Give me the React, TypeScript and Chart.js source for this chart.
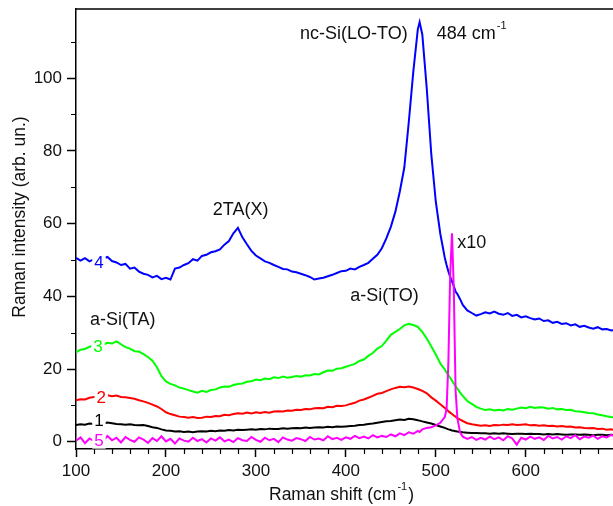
import React, { useEffect, useRef } from 'react';
import { Chart, registerables } from 'chart.js';

Chart.register(...registerables);

// Raman shift (cm^-1) sample positions
const X = [
  100, 105, 110, 115, 120, 125, 130, 135, 140, 145,
  150, 155, 160, 165, 170, 175, 180, 185, 190, 195,
  200, 205, 210, 215, 220, 225, 230, 235, 240, 245,
  250, 255, 260, 265, 270, 275, 280, 285, 290, 295,
  300, 305, 310, 315, 320, 325, 330, 335, 340, 345,
  350, 355, 360, 365, 370, 375, 380, 385, 390, 395,
  400, 405, 410, 415, 420, 425, 430, 435, 440, 445,
  450, 455, 460, 465, 470, 475, 480, 482, 485, 490,
  495, 500, 505, 510, 512, 514, 516, 518, 520, 522,
  524, 527, 530, 535, 540, 545, 550, 555, 560, 565,
  570, 575, 580, 585, 590, 595, 600, 605, 610, 615,
  620, 625, 630, 635, 640, 645, 650, 655, 660, 665,
  670, 675, 680, 685, 690, 695, 700,
];

// curve 4 (blue)
const S4 = [
  50.6, 49.8, 50.5, 49.6, 50.2, 49.9, 50.4, 50.8, 49.7, 49.3,
  48.6, 48.9, 47.6, 47.9, 46.8, 46.2, 45.9, 45.2, 45.6, 44.7,
  45.1, 44.6, 47.6, 47.9, 48.6, 49.1, 50.2, 49.8, 51.1, 51.4,
  52.1, 52.4, 52.9, 54.2, 55.2, 57.3, 58.8, 56.2, 54.3, 52.5,
  51.2, 50.4, 49.6, 49.2, 48.6, 48.1, 47.5, 47.4, 46.8, 46.6,
  46.2, 45.8, 45.3, 44.6, 44.9, 45.1, 45.5, 45.9, 46.4, 46.9,
  47.0, 47.6, 47.4, 48.1, 48.6, 49.2, 50.3, 51.4, 53.2, 55.9,
  59.1, 63.2, 68.8, 75.4, 88.0, 101.8, 113.4, 115.4, 112.0, 97.0,
  79.0, 66.0, 57.2, 50.6, 48.6, 46.8, 45.3, 44.1, 42.8, 41.3,
  40.6, 39.2, 37.6, 36.1, 35.4, 34.7, 35.1, 35.6, 35.3, 35.8,
  35.2, 34.9, 35.4, 34.6, 34.9, 34.2, 34.5, 34.0, 33.6, 33.9,
  33.2, 33.4, 32.7, 33.0, 32.4, 32.6, 32.0, 32.3, 31.6, 31.9,
  31.4, 31.1, 31.5, 30.9, 31.0, 30.6, 30.8,
];

// curve 3 (green)
const S3 = [
  24.6, 25.3, 25.5, 26.1, 26.4, 26.9, 26.7, 27.2, 27.0, 27.6,
  26.8, 26.0, 25.6, 24.9, 24.8, 24.1, 23.3, 22.3, 20.5, 18.0,
  16.6, 15.9, 15.5, 14.9, 14.6, 14.2, 13.8, 13.5, 14.0, 13.7,
  14.2, 14.4, 14.9, 15.2, 15.1, 15.6, 15.9, 16.0, 16.5, 16.6,
  17.1, 16.9, 17.4, 17.2, 17.7, 17.5, 17.9, 17.6, 17.8, 18.1,
  17.9, 18.3, 18.2, 18.6, 18.5, 19.1, 19.6, 19.5, 20.1, 20.2,
  20.6, 21.0, 21.4, 22.2, 22.6, 23.6, 24.4, 25.6, 26.3, 27.8,
  29.4, 30.2, 31.0, 32.0, 32.4, 32.1, 31.6, 31.0, 30.2, 28.4,
  26.2, 24.0, 21.5, 19.9, 19.0, 18.3, 17.6, 16.8, 16.0, 15.2,
  14.6, 13.5, 12.6, 11.2, 10.4, 9.6, 9.1, 8.7, 8.9, 8.6,
  8.8, 8.6, 9.0, 8.8, 9.1, 9.4, 9.2, 9.6, 9.3, 9.5,
  9.4, 9.1, 9.3, 8.9, 9.0, 8.7, 8.8, 8.4, 8.3, 8.1,
  7.9, 7.8, 7.5, 7.3, 7.0, 6.8, 6.7,
];

// curve 2 (red)
const S2 = [
  11.4, 11.7, 11.6, 12.1, 12.3, 12.4, 12.5, 12.8, 12.5, 12.7,
  12.3, 12.2, 12.0, 11.8, 11.4, 11.1, 10.7, 10.2, 9.7, 9.0,
  8.1, 7.6, 7.3, 6.9, 6.8, 6.6, 6.8, 6.5, 6.6, 6.9,
  6.8, 7.1, 7.0, 7.4, 7.3, 7.6, 7.8, 7.7, 8.0, 7.8,
  8.1, 7.9, 8.2, 8.0, 8.3, 8.4, 8.3, 8.6, 8.5, 8.8,
  8.7, 9.0, 8.9, 9.2, 9.3, 9.2, 9.6, 9.5, 9.9, 9.8,
  10.0, 10.4, 10.7, 11.3, 11.6, 12.1, 12.6, 13.2, 13.4, 13.9,
  14.4, 14.8, 15.1, 15.0, 15.2, 14.9, 14.5, 14.3, 14.0, 13.3,
  12.2, 11.3, 10.3, 9.3, 8.9, 8.4, 8.0, 7.6, 7.2, 6.9,
  6.5, 6.1, 5.7, 5.1, 4.8, 4.6, 4.4, 4.5, 4.3, 4.6,
  4.5, 4.7, 4.6, 4.8, 4.6, 4.7, 4.8, 4.5, 4.6, 4.4,
  4.5, 4.3, 4.4, 4.2, 4.3, 4.1, 4.2, 3.9, 4.0, 3.8,
  3.7, 3.8, 3.5, 3.6, 3.3, 3.4, 3.2,
];

// curve 1 (black)
const S1 = [
  4.6, 4.8, 4.7, 5.0, 4.9, 5.1, 5.0, 5.3, 5.1, 4.9,
  4.8, 4.7, 4.8, 4.6, 4.5, 4.6, 4.3, 4.0, 3.8, 3.4,
  3.1, 3.0, 2.8, 2.9, 2.7, 2.8, 2.6, 2.8, 2.9, 2.8,
  3.0, 2.9, 3.1, 3.0, 3.2, 3.1, 3.3, 3.2, 3.3, 3.4,
  3.3, 3.5, 3.4, 3.6, 3.5, 3.5, 3.7, 3.6, 3.7, 3.8,
  3.7, 3.9, 3.8, 3.9, 4.0, 3.9, 4.1, 4.0, 4.2, 4.1,
  4.2, 4.3, 4.4, 4.6, 4.7, 4.9, 5.0, 5.2, 5.4, 5.6,
  5.7, 5.9, 6.1, 6.0, 6.3, 6.2, 5.9, 5.8, 5.6, 5.3,
  5.0, 4.6, 4.2, 3.8, 3.6, 3.4, 3.3, 3.1, 3.0, 2.9,
  2.8, 2.7, 2.6, 2.5, 2.4, 2.4, 2.3, 2.3, 2.2, 2.3,
  2.2, 2.3, 2.2, 2.1, 2.2, 2.2, 2.1, 2.2, 2.1, 2.1,
  2.0, 2.1, 2.0, 2.1, 2.0, 1.9, 2.0, 2.0, 1.9, 2.0,
  1.9, 1.8, 1.9, 1.9, 1.8, 1.9, 1.8,
];

// curve 5 (magenta, x10)
const S5 = [
  0.3, 1.2, -0.4, 0.9, 0.2, 1.4, 0.1, 1.6, 0.4, 1.1,
  -0.2, 1.3, 0.5, 0.0, 1.2, 0.6, -0.3, 1.0, 0.2, 1.5,
  0.1, 0.8, -0.5, 0.9, 0.3, 0.0, 1.1, 0.2, 0.7, -0.2,
  0.9, 0.3, 1.2, 0.1, 0.6, -0.1, 1.0, 0.4, 0.2, 1.3,
  0.5, 0.0, 1.1, 0.4, 0.8, -0.1, 1.2, 0.6, 0.3, 1.0,
  0.7, 0.2, 1.3, 0.6, 0.9, 0.4, 1.5, 0.7, 1.1, 0.5,
  1.2, 0.8, 1.6, 1.0, 1.4, 0.9, 1.8, 1.2, 1.6, 1.3,
  2.0, 1.5, 2.3, 1.8, 2.6, 2.2, 3.0, 2.7, 3.4, 3.8,
  4.0, 4.5, 5.2, 6.8, 9.0, 22.0, 46.0, 57.3, 42.0, 14.0,
  6.5, 2.5, 1.4, 0.8, 1.3, 0.5, 1.1, 0.6, 1.4, 0.7,
  1.2, 0.4, 1.5, 0.9, -0.8, 1.1, 0.6, 1.4, 0.8, 1.2,
  0.5, 1.6, 0.9, 1.3, 0.6, 1.5, 1.0, 1.8, 0.7, 1.4,
  1.1, 1.7, 0.8, 1.5, 1.2, 1.9, 1.3,
];

const X_TICKS = [100, 200, 300, 400, 500, 600];
const Y_TICKS = [0, 20, 40, 60, 80, 100];
const X_MINOR = [120, 140, 160, 180, 220, 240, 260, 280, 320, 340, 360, 380, 420, 440, 460, 480, 520, 540, 560, 580, 620, 640, 660, 680];
const Y_MINOR = [10, 30, 50, 70, 90, 110];

const CURVE_NAMES = ['5', '1', '2', '3', '4'];
const CURVE_LABEL_X = [125.5, 125.5, 128, 124.5, 125.5];
const CURVE_LABEL_Y = [0.3, 5.8, 12.1, 26.3, 49.4];

const ANNOT_TEXT = ['nc-Si(LO-TO)', '2TA(X)', 'a-Si(TA)', 'a-Si(TO)', 'x10'];
const ANNOT_X = [409, 283, 152, 443, 540];
const ANNOT_Y = [112, 63.6, 33.5, 40, 54.6];

const PEAK_TEXT = '484 cm';
const PEAK_SUP = '-1';
const PEAK_X = 501;
const PEAK_Y = 112;

const X_TITLE = 'Raman shift (cm';
const X_TITLE_SUP = '-1';
const Y_TITLE = 'Raman intensity (arb. un.)';

const FONT = "'Liberation Sans', Arial, Helvetica, sans-serif";
const COLORS = ['#ff00ff', '#000000', '#ff0000', '#00ff00', '#0000ff'];
const SERIES = [S5, S1, S2, S3, S4];

const overlay = {
  id: 'overlay',
  afterDatasetsDraw(chart: any) {
    const { ctx, chartArea, scales } = chart;
    const xs = scales.x;
    const ys = scales.y;
    ctx.save();
    // top frame line
    ctx.strokeStyle = '#000';
    ctx.lineWidth = 1.5;
    ctx.beginPath();
    ctx.moveTo(chartArea.left, chartArea.top);
    ctx.lineTo(chartArea.right, chartArea.top);
    ctx.stroke();
    // minor ticks
    ctx.lineWidth = 1.2;
    ctx.beginPath();
    X_MINOR.forEach((v) => {
      const px = Math.round(xs.getPixelForValue(v)) + 0.5;
      ctx.moveTo(px, chartArea.bottom);
      ctx.lineTo(px, chartArea.bottom + 5);
    });
    Y_MINOR.forEach((v) => {
      const py = Math.round(ys.getPixelForValue(v)) + 0.5;
      ctx.moveTo(chartArea.left, py);
      ctx.lineTo(chartArea.left - 5, py);
    });
    ctx.stroke();

    // curve number labels with white background
    ctx.font = `17px ${FONT}`;
    ctx.textAlign = 'center';
    ctx.textBaseline = 'middle';
    CURVE_NAMES.forEach((t, i) => {
      const px = xs.getPixelForValue(CURVE_LABEL_X[i]);
      const py = ys.getPixelForValue(CURVE_LABEL_Y[i]);
      const w = ctx.measureText(t).width;
      ctx.fillStyle = '#ffffff';
      ctx.fillRect(px - w / 2 - 2, py - 8, w + 4, 16);
      ctx.fillStyle = COLORS[i];
      ctx.fillText(t, px, py + 1);
    });

    // annotations
    ctx.fillStyle = '#111';
    ctx.font = `18px ${FONT}`;
    ANNOT_TEXT.forEach((t, i) => {
      ctx.fillText(t, xs.getPixelForValue(ANNOT_X[i]), ys.getPixelForValue(ANNOT_Y[i]));
    });
    // 484 cm-1
    ctx.textAlign = 'left';
    const ppx = xs.getPixelForValue(PEAK_X);
    const ppy = ys.getPixelForValue(PEAK_Y);
    ctx.fillText(PEAK_TEXT, ppx, ppy);
    const pw = ctx.measureText(PEAK_TEXT).width;
    ctx.font = `11px ${FONT}`;
    ctx.fillText(PEAK_SUP, ppx + pw + 1, ppy - 8);

    // x title
    ctx.font = `17.5px ${FONT}`;
    const w1 = ctx.measureText(X_TITLE).width;
    const w3 = ctx.measureText(')').width;
    ctx.font = `11px ${FONT}`;
    const w2 = ctx.measureText(X_TITLE_SUP).width;
    const total = w1 + w2 + w3 + 2;
    let sx = (chartArea.left + chartArea.right) / 2 - 3 - total / 2;
    const ty = chart.height - 11;
    ctx.font = `17.5px ${FONT}`;
    ctx.fillText(X_TITLE, sx, ty);
    sx += w1 + 1;
    ctx.font = `11px ${FONT}`;
    ctx.fillText(X_TITLE_SUP, sx, ty - 8);
    sx += w2 + 1;
    ctx.font = `17.5px ${FONT}`;
    ctx.fillText(')', sx, ty);

    // y title
    ctx.save();
    ctx.translate(20, (chartArea.top + chartArea.bottom) / 2 - 12);
    ctx.rotate(-Math.PI / 2);
    ctx.textAlign = 'center';
    ctx.font = `17.5px ${FONT}`;
    ctx.fillText(Y_TITLE, 0, 0);
    ctx.restore();

    ctx.restore();
  },
};

export default function App() {
  const ref = useRef<HTMLCanvasElement>(null);
  useEffect(() => {
    if (!ref.current) return;
    const datasets = SERIES.map((s, i) => ({
      label: CURVE_NAMES[i],
      data: X.map((x, j) => ({ x, y: s[j] })),
      borderColor: COLORS[i],
      backgroundColor: COLORS[i],
      borderWidth: 2,
      pointRadius: 0,
      tension: 0,
      fill: false,
    }));
    const chart = new Chart(ref.current, {
      type: 'line',
      data: { datasets },
      plugins: [overlay],
      options: {
        responsive: false,
        animation: false,
        layout: { padding: { top: 9, right: 0, bottom: 0, left: 0 } },
        plugins: { legend: { display: false }, tooltip: { enabled: false } },
        scales: {
          x: {
            type: 'linear',
            min: 100,
            max: 697,
            afterBuildTicks: (s: any) => { s.ticks = X_TICKS.map((v) => ({ value: v })); },
            afterFit: (s: any) => { s.height = 57; s.paddingLeft = 0; s.paddingRight = 0; },
            ticks: { color: '#111', font: { family: FONT, size: 17 }, padding: 4, maxRotation: 0, callback: (v: any) => String(v) },
            grid: { display: true, drawOnChartArea: false, drawTicks: true, tickLength: 8, tickWidth: 1.5, tickColor: '#000' },
            border: { display: true, color: '#000', width: 1.5 },
          },
          y: {
            type: 'linear',
            min: -2,
            max: 119,
            afterBuildTicks: (s: any) => { s.ticks = Y_TICKS.map((v) => ({ value: v })); },
            afterFit: (s: any) => { s.width = 76; s.paddingTop = 0; s.paddingBottom = 0; },
            ticks: { color: '#111', font: { family: FONT, size: 17 }, padding: 5, callback: (v: any) => String(v) },
            grid: { display: true, drawOnChartArea: false, drawTicks: true, tickLength: 9, tickWidth: 1.5, tickColor: '#000' },
            border: { display: true, color: '#000', width: 1.5 },
          },
        },
      },
    });
    return () => chart.destroy();
  }, []);
  return (
    <div style={{ position: 'absolute', left: 0, top: 0, width: 613, height: 506, background: '#fff' }}>
      <canvas ref={ref} width={613} height={506} style={{ display: 'block' }} />
    </div>
  );
}
